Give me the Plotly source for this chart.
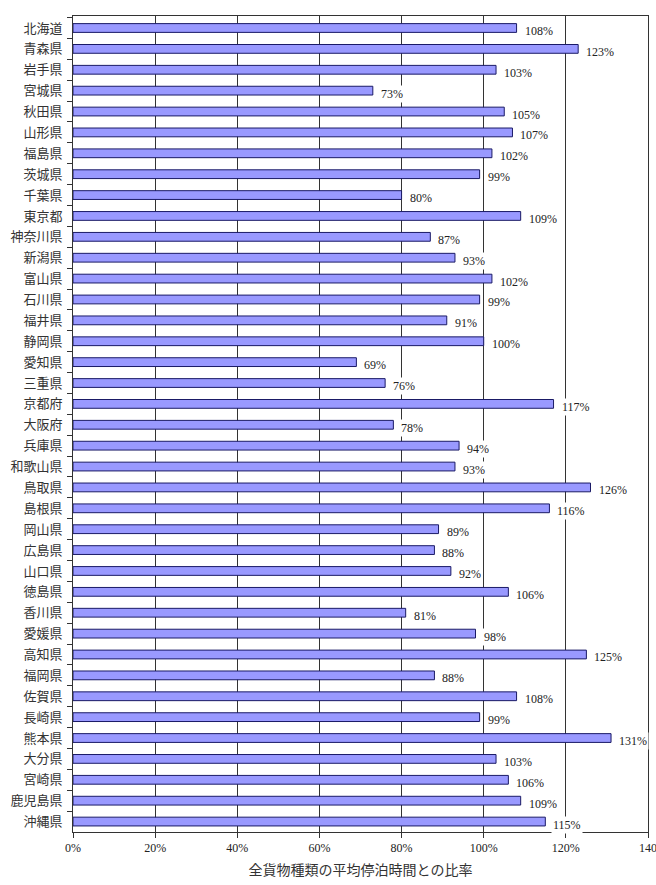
import plotly.graph_objects as go

prefectures = ["北海道", "青森県", "岩手県", "宮城県", "秋田県", "山形県", "福島県", "茨城県",
               "千葉県", "東京都", "神奈川県", "新潟県", "富山県", "石川県", "福井県", "静岡県",
               "愛知県", "三重県", "京都府", "大阪府", "兵庫県", "和歌山県", "鳥取県", "島根県",
               "岡山県", "広島県", "山口県", "徳島県", "香川県", "愛媛県", "高知県", "福岡県",
               "佐賀県", "長崎県", "熊本県", "大分県", "宮崎県", "鹿児島県", "沖縄県"]
ratios = [108, 123, 103, 73, 105, 107, 102, 99, 80, 109, 87, 93, 102, 99, 91, 100,
          69, 76, 117, 78, 94, 93, 126, 116, 89, 88, 92, 106, 81, 98, 125, 88,
          108, 99, 131, 103, 106, 109, 115]
tick_vals = [0, 20, 40, 60, 80, 100, 120, 140]
tick_text = ["0%", "20%", "40%", "60%", "80%", "100%", "120%", "140"]
x_title = "全貨物種類の平均停泊時間との比率"

FONT = "Liberation Serif, Noto Sans CJK JP, serif"

fig = go.Figure()
fig.add_trace(go.Bar(
    x=ratios, y=prefectures, orientation="h",
    marker=dict(color="#9999FF", line=dict(color="#1a1a66", width=1)),
    width=0.42, hoverinfo="x+y",
))

for name, v in zip(prefectures, ratios):
    fig.add_annotation(
        x=v, y=name, text=f"{v}%", showarrow=False,
        xanchor="left", yanchor="middle", xshift=6, yshift=-3,
        bgcolor="white", borderpad=1,
        font=dict(family=FONT, size=12, color="#222"),
    )

fig.update_layout(
    width=656, height=885,
    margin=dict(l=73, r=8, t=16, b=53),
    plot_bgcolor="white", paper_bgcolor="white",
    showlegend=False,
    font=dict(family=FONT, color="#222"),
    xaxis=dict(
        range=[0, 140], tickvals=tick_vals, ticktext=tick_text,
        showgrid=True, gridcolor="#333", gridwidth=1,
        showline=True, linecolor="#333", linewidth=1, mirror=True,
        ticks="outside", ticklen=5, tickcolor="#333",
        ticklabeloverflow="allow",
        tickfont=dict(family=FONT, size=12, color="#222"),
        title=dict(text=x_title, font=dict(family=FONT, size=14, color="#333"), standoff=10),
        zeroline=False, automargin=False,
    ),
    yaxis=dict(
        autorange="reversed", type="category",
        showline=True, linecolor="#333", linewidth=1, mirror=True,
        ticks="outside", ticklen=5, tickcolor="#333", tickson="boundaries",
        ticklabelstandoff=7,
        tickfont=dict(family=FONT, size=13, color="#333"),
        showgrid=False, automargin=False,
    ),
)

fig.write_html("out.html")
